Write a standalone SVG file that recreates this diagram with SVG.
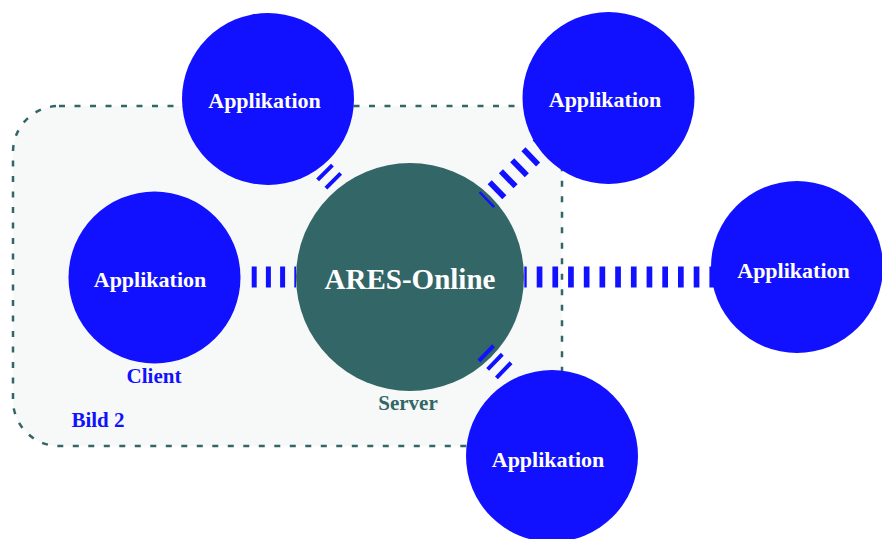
<svg xmlns="http://www.w3.org/2000/svg" width="882" height="539" viewBox="0 0 882 539">
<style>
.app{fill:#1111ff}
.srv{fill:#336666}
.conn{stroke:#1111ff;stroke-width:21;fill:none}
.t{font-family:"Liberation Serif","Times New Roman",serif;font-weight:bold;text-anchor:middle}
.w{fill:#ffffff;font-size:22px}
.lbl{font-size:21px}
</style>
<rect x="0" y="0" width="882" height="539" fill="#ffffff"/>
<g id="bild2">
<rect x="13" y="106" width="549" height="340" rx="46" ry="46" fill="#f7f9f9" stroke="#336666" stroke-width="2.5" stroke-dasharray="6 9.5"/>
<text class="t lbl" x="98" y="427" fill="#1111ff">Bild 2</text>
</g>
<g id="server">
<circle class="srv" cx="410" cy="277" r="114"/>
<text class="t" x="410" y="289" font-size="29" fill="#ffffff">ARES-Online</text>
<text class="t lbl" x="408" y="410" fill="#336666">Server</text>
</g>
<g id="connectors">
<line class="conn" x1="251.7" y1="277" x2="296" y2="277" stroke-dasharray="5 9.2"/>
<line class="conn" x1="524.3" y1="277" x2="716" y2="277" stroke-dasharray="5.7 10" stroke-dashoffset="3.3"/>
<line class="conn" x1="486" y1="200.4" x2="547.2" y2="140.9" stroke-dasharray="5.7 10" stroke-dashoffset="3.2"/>
<line class="conn" x1="323.6" y1="171.1" x2="334.7" y2="182.1" stroke-dasharray="4 7.7"/>
<line class="conn" x1="484.8" y1="351.9" x2="505.2" y2="371.7" stroke-dasharray="4 8.2"/>
</g>
<g id="app-top-left">
<circle class="app" cx="268" cy="99" r="86"/>
<text class="t w" x="264.5" y="107.5">Applikation</text>
</g>
<g id="app-top-right">
<circle class="app" cx="608.5" cy="98" r="86"/>
<text class="t w" x="605" y="107">Applikation</text>
</g>
<g id="app-client">
<circle class="app" cx="154.5" cy="277.5" r="86"/>
<text class="t w" x="150" y="287">Applikation</text>
<text class="t lbl" x="154" y="383" fill="#1111ff">Client</text>
</g>
<g id="app-right">
<circle class="app" cx="797" cy="267" r="86"/>
<text class="t w" x="793.5" y="278">Applikation</text>
</g>
<g id="app-bottom">
<circle class="app" cx="552" cy="456" r="86"/>
<text class="t w" x="548" y="467">Applikation</text>
</g>
</svg>
